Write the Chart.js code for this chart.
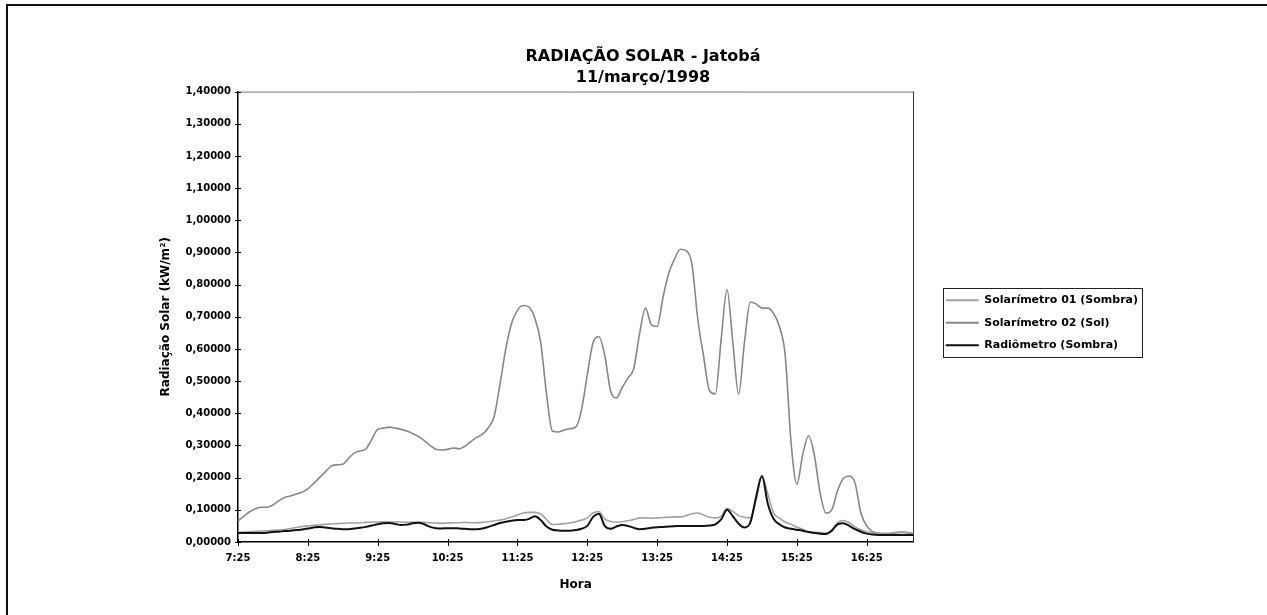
<!DOCTYPE html>
<html lang="pt">
<head>
<meta charset="utf-8">
<title>Radiação Solar - Jatobá</title>
<script src="https://cdn.jsdelivr.net/npm/chart.js@4"></script>
<style>
  html, body { margin: 0; padding: 0; background: #fff; overflow: hidden; }
  #wrap { position: relative; width: 1288px; height: 615px; }
</style>
</head>
<body>
<div id="wrap"><canvas id="grafico"></canvas></div>
<script>
// leituras a cada 5 minutos, 7:25 ate 17:05
const horas = [
  '7:25','7:30','7:35','7:40','7:45','7:50','7:55','8:00','8:05','8:10','8:15','8:20',
  '8:25','8:30','8:35','8:40','8:45','8:50','8:55','9:00','9:05','9:10','9:15','9:20',
  '9:25','9:30','9:35','9:40','9:45','9:50','9:55','10:00','10:05','10:10','10:15','10:20',
  '10:25','10:30','10:35','10:40','10:45','10:50','10:55','11:00','11:05','11:10','11:15','11:20',
  '11:25','11:30','11:35','11:40','11:45','11:50','11:55','12:00','12:05','12:10','12:15','12:20',
  '12:25','12:30','12:35','12:40','12:45','12:50','12:55','13:00','13:05','13:10','13:15','13:20',
  '13:25','13:30','13:35','13:40','13:45','13:50','13:55','14:00','14:05','14:10','14:15','14:20',
  '14:25','14:30','14:35','14:40','14:45','14:50','14:55','15:00','15:05','15:10','15:15','15:20',
  '15:25','15:30','15:35','15:40','15:45','15:50','15:55','16:00','16:05','16:10','16:15','16:20',
  '16:25','16:30','16:35','16:40','16:45','16:50','16:55','17:00','17:05'
];

const solarimetro01 = [
  0.030,0.031,0.032,0.033,0.034,0.035,0.036,0.037,0.039,0.042,0.045,0.048,
  0.050,0.052,0.053,0.055,0.056,0.057,0.058,0.059,0.059,0.060,0.061,0.062,
  0.062,0.063,0.062,0.062,0.062,0.061,0.062,0.062,0.061,0.060,0.059,0.058,
  0.059,0.060,0.060,0.061,0.060,0.060,0.061,0.063,0.066,0.068,0.072,0.078,
  0.084,0.090,0.092,0.092,0.087,0.070,0.054,0.055,0.057,0.059,0.063,0.068,
  0.075,0.090,0.095,0.072,0.064,0.062,0.063,0.066,0.070,0.075,0.075,0.074,
  0.075,0.076,0.077,0.078,0.078,0.082,0.088,0.090,0.084,0.077,0.075,0.080,
  0.105,0.095,0.082,0.077,0.075,0.130,0.205,0.150,0.090,0.075,0.062,0.055,
  0.046,0.040,0.032,0.030,0.029,0.028,0.038,0.060,0.067,0.060,0.047,0.038,
  0.032,0.028,0.027,0.027,0.028,0.030,0.032,0.030,0.027
];

const solarimetro02 = [
  0.065,0.080,0.094,0.103,0.108,0.108,0.115,0.128,0.138,0.143,0.149,0.155,
  0.165,0.182,0.200,0.218,0.236,0.240,0.242,0.260,0.277,0.283,0.290,0.320,
  0.350,0.354,0.357,0.354,0.350,0.345,0.337,0.328,0.315,0.300,0.288,0.286,
  0.288,0.292,0.290,0.298,0.312,0.325,0.335,0.355,0.390,0.490,0.600,0.680,
  0.720,0.735,0.730,0.695,0.620,0.460,0.345,0.342,0.348,0.352,0.357,0.410,
  0.520,0.620,0.638,0.580,0.470,0.448,0.480,0.510,0.540,0.650,0.727,0.675,
  0.670,0.760,0.835,0.880,0.910,0.905,0.860,0.690,0.575,0.470,0.460,0.630,
  0.785,0.620,0.460,0.620,0.746,0.740,0.727,0.727,0.710,0.670,0.580,0.310,
  0.180,0.270,0.330,0.270,0.152,0.090,0.100,0.160,0.198,0.205,0.183,0.090,
  0.050,0.032,0.028,0.025,0.025,0.028,0.030,0.028,0.025
];

const radiometro = [
  0.028,0.028,0.028,0.028,0.028,0.029,0.031,0.032,0.034,0.035,0.037,0.039,
  0.042,0.045,0.047,0.045,0.043,0.041,0.040,0.040,0.042,0.044,0.047,0.051,
  0.055,0.058,0.059,0.056,0.053,0.054,0.058,0.060,0.055,0.047,0.043,0.042,
  0.043,0.043,0.042,0.041,0.040,0.040,0.042,0.047,0.053,0.059,0.063,0.066,
  0.068,0.068,0.072,0.080,0.068,0.048,0.038,0.036,0.035,0.035,0.037,0.041,
  0.050,0.078,0.088,0.050,0.041,0.048,0.053,0.050,0.044,0.040,0.041,0.044,
  0.046,0.047,0.048,0.049,0.050,0.050,0.050,0.050,0.050,0.051,0.055,0.070,
  0.100,0.080,0.057,0.045,0.060,0.140,0.205,0.120,0.072,0.055,0.045,0.041,
  0.038,0.035,0.031,0.028,0.026,0.025,0.035,0.055,0.058,0.050,0.040,0.032,
  0.026,0.023,0.022,0.022,0.022,0.022,0.022,0.022,0.022
];

const nomesSeries = ['Solarímetro 01 (Sombra)', 'Solarímetro 02 (Sol)', 'Radiômetro (Sombra)'];
const tituloGrafico = ['RADIAÇÃO SOLAR - Jatobá', '11/março/1998'];

Chart.defaults.font.family = "'DejaVu Sans', Arial, sans-serif";
Chart.defaults.color = '#000';

// moldura externa, borda do grafico e marcas cruzando os eixos
const molduraPlugin = {
  id: 'moldura',
  afterLayout(chart) {
    // afasta a legenda da area do grafico e desce um pouco
    const lg = chart.legend;
    lg.left += 21; lg.right += 21;
    lg.top += 6; lg.bottom += 6;
  },
  beforeDatasetsDraw(chart) {
    const {ctx, chartArea: a} = chart;
    ctx.save();
    ctx.lineWidth = 1;
    ctx.strokeStyle = '#777';
    ctx.beginPath();
    ctx.moveTo(a.left, a.top + 0.5);
    ctx.lineTo(a.right, a.top + 0.5);
    ctx.stroke();
    ctx.strokeStyle = '#333';
    ctx.beginPath();
    ctx.moveTo(Math.round(a.right) + 0.5, a.top);
    ctx.lineTo(Math.round(a.right) + 0.5, a.bottom);
    ctx.stroke();
    ctx.restore();
  },
  afterDraw(chart) {
    const {ctx, chartArea: a, scales} = chart;
    ctx.save();
    ctx.strokeStyle = '#000';
    ctx.lineWidth = 1;
    ctx.beginPath();
    scales.y.ticks.forEach((t, i) => {
      const py = Math.round(scales.y.getPixelForTick(i)) + 0.5;
      ctx.moveTo(a.left - 3, py);
      ctx.lineTo(a.left + 3, py);
    });
    scales.x.ticks.forEach((t, i) => {
      const px = Math.round(scales.x.getPixelForTick(i)) + 0.5;
      ctx.moveTo(px, a.bottom - 3);
      ctx.lineTo(px, a.bottom + 4);
    });
    ctx.stroke();

    // caixa da legenda
    const boxes = chart.legend.legendHitBoxes;
    if (boxes && boxes.length) {
      const l = Math.min(...boxes.map(b => b.left)) - 3;
      const t = Math.min(...boxes.map(b => b.top)) - 7;
      const r = Math.max(...boxes.map(b => b.left + b.width)) + 4;
      const btm = Math.max(...boxes.map(b => b.top + b.height)) + 6;
      ctx.strokeStyle = '#222';
      ctx.strokeRect(Math.round(l) + 0.5, Math.round(t) + 0.5, Math.round(r - l), Math.round(btm - t));
    }

    // moldura da area do grafico
    ctx.lineWidth = 2;
    ctx.strokeStyle = '#111';
    ctx.strokeRect(7, 5, 1400, 800);
    ctx.restore();
  }
};

const ctx = document.getElementById('grafico').getContext('2d');
new Chart(ctx, {
  type: 'line',
  data: {
    labels: horas,
    datasets: [
      {
        label: nomesSeries[0],
        data: solarimetro01,
        borderColor: '#a2a2a2',
        backgroundColor: '#a2a2a2',
        borderWidth: 1.6,
        order: 1
      },
      {
        label: nomesSeries[1],
        data: solarimetro02,
        borderColor: '#878787',
        backgroundColor: '#878787',
        borderWidth: 1.6,
        order: 2
      },
      {
        label: nomesSeries[2],
        data: radiometro,
        borderColor: '#111',
        backgroundColor: '#111',
        borderWidth: 2,
        order: 0
      }
    ]
  },
  options: {
    responsive: true,
    maintainAspectRatio: false,
    animation: false,
    elements: {
      point: { radius: 0 },
      line: { cubicInterpolationMode: 'monotone' }
    },
    layout: {
      padding: { left: 159, right: 161, top: 0, bottom: 19 }
    },
    plugins: {
      tooltip: { enabled: false },
      title: {
        display: true,
        text: tituloGrafico,
        font: { size: 16, weight: 'bold', lineHeight: 1.33 },
        color: '#000',
        padding: { top: 46, bottom: 3 }
      },
      legend: {
        display: true,
        position: 'right',
        fullSize: false,
        labels: {
          boxWidth: 33,
          boxHeight: 2,
          padding: 11.5,
          font: { size: 11, weight: 'bold' },
          color: '#000',
          sort: (a, b) => a.datasetIndex - b.datasetIndex,
          generateLabels(chart) {
            const items = Chart.defaults.plugins.legend.labels.generateLabels(chart);
            items.forEach(it => { it.lineWidth = 0; });
            return items;
          }
        }
      }
    },
    scales: {
      x: {
        type: 'category',
        grid: { display: false, drawTicks: false },
        border: { display: true, color: '#000', width: 1.5 },
        ticks: {
          autoSkip: false,
          maxRotation: 0,
          padding: 10,
          font: { size: 10, weight: 'bold' },
          callback: (v) => horas[v]
        },
        afterBuildTicks: (scale) => {
          scale.ticks = scale.ticks.filter(t => horas[t.value].endsWith(':25'));
        },
        afterFit: (scale) => { scale.height = 54; },
        title: {
          display: true,
          text: 'Hora',
          font: { size: 12, weight: 'bold' },
          padding: { top: 0, bottom: 4 }
        }
      },
      y: {
        min: 0,
        max: 1.4,
        grid: { display: false, drawTicks: false },
        border: { display: true, color: '#000', width: 1.5 },
        ticks: {
          stepSize: 0.1,
          padding: 7,
          font: { size: 10, weight: 'bold' },
          callback: (v) => v.toFixed(5).replace('.', ',')
        },
        afterFit: (scale) => { scale.width = 79; },
        title: {
          display: true,
          text: 'Radiação Solar (kW/m²)',
          font: { size: 12, weight: 'bold' },
          padding: { top: 0, bottom: 0 }
        }
      }
    }
  },
  plugins: [molduraPlugin]
});
</script>
</body>
</html>
